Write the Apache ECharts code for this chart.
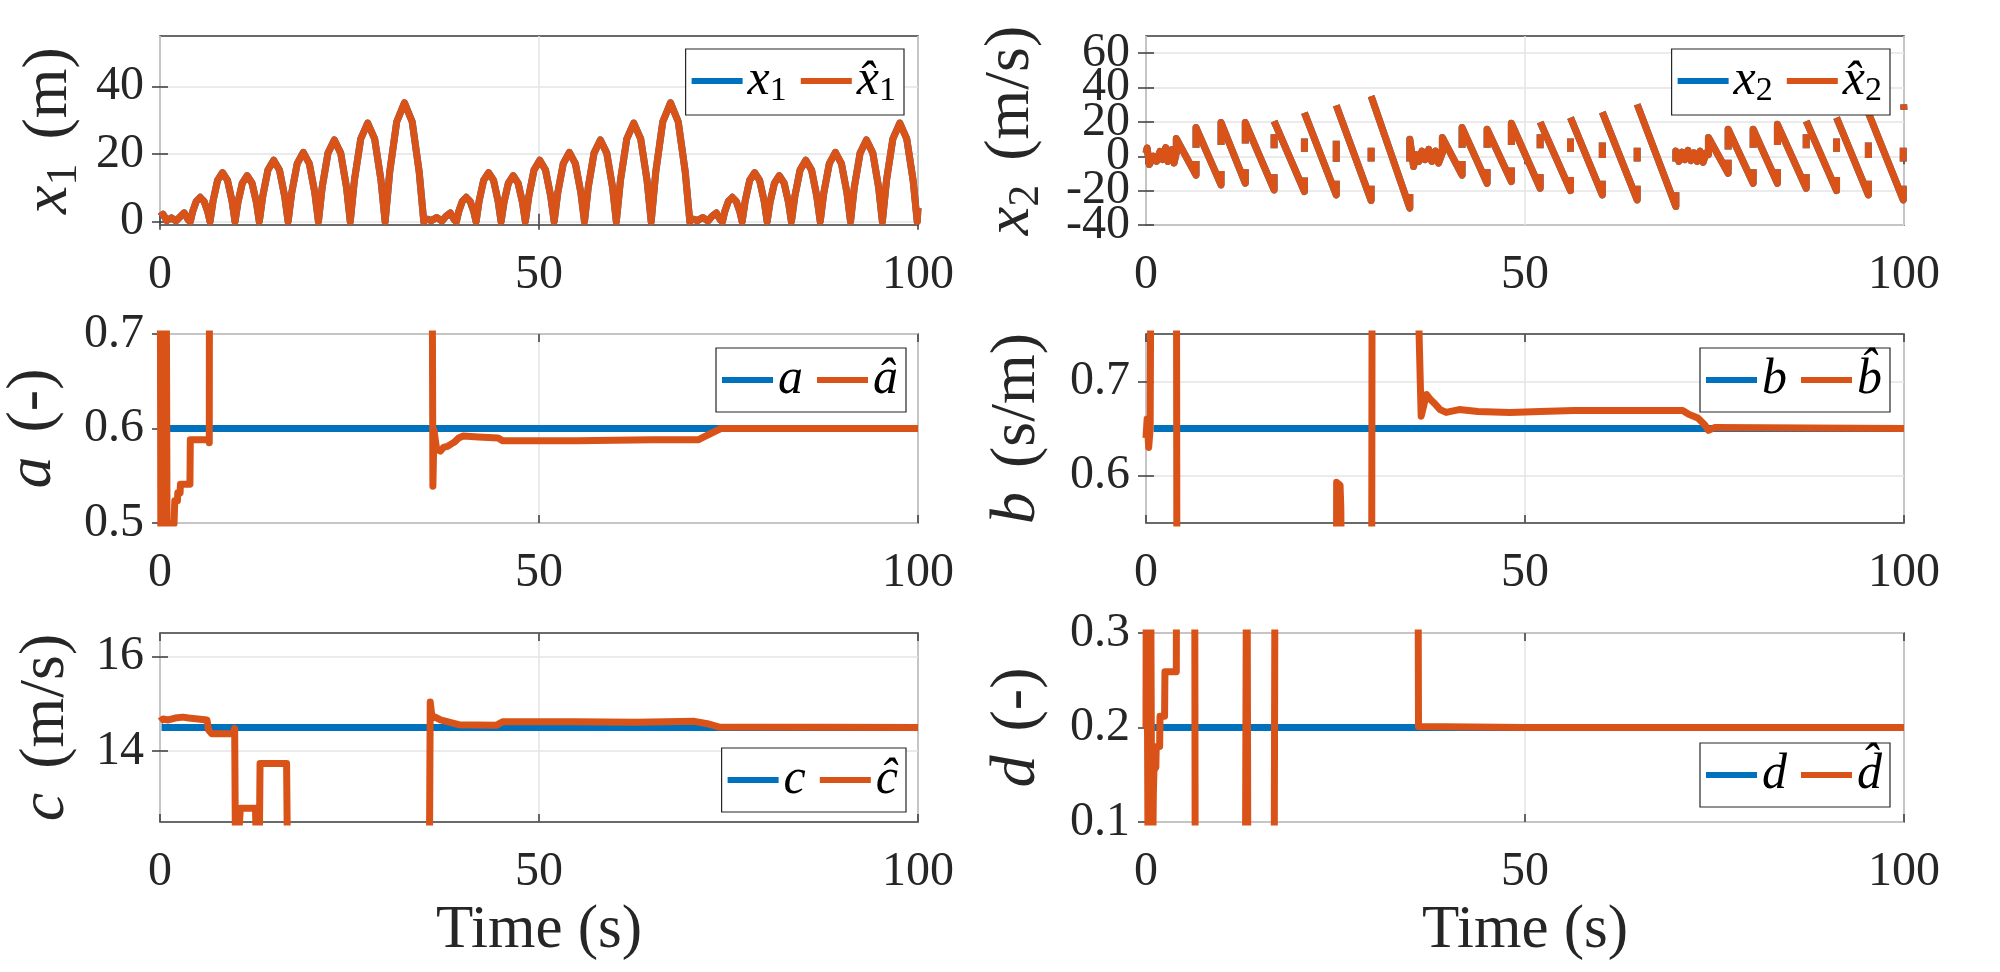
<!DOCTYPE html>
<html>
<head>
<meta charset="utf-8">
<script src="https://cdn.jsdelivr.net/npm/echarts@6.0.0/dist/echarts.min.js"></script>
<style>
  html, body { margin: 0; padding: 0; background: #fff; }
  #chart { width: 2000px; height: 972px; }
</style>
</head>
<body>
<div id="chart"></div>
<script>
const SERIF = 'Liberation Serif'
const TEXT = '#262626'
const AXC = '#3a3a3a'
const GRIDC = '#e4e4e4'
const BLUE = '#0072BD'
const ORANGE = '#D95319'

// tick values
const timeTicks = [0, 50, 100]
const x1Ticks = [0, 20, 40]
const x2Ticks = [-40, 0, 40]
const x2TicksAlt = [-20, 20, 60]
const aTicks = [0.5, 0.6, 0.7]
const bTicks = [0.6, 0.7]
const cTicks = [14, 16]
const dTicks = [0.1, 0.2, 0.3]

// position x1 (true and estimate overlap)
const x1 = [
  [0, 1.5], [0.4, 2.2], [0.9, 0.3], [1.5, 1.1], [2.1, 0.2], [2.7, 1.5], [3.2, 2.6], [3.7, 0.6], [4.0, 0],
  [4.31, 3.0], [4.78, 6.0], [5.3, 7.2], [5.82, 6.0], [6.29, 3.0], [6.6, 0],
  [7.0, 6.1], [7.59, 12.2], [8.25, 14.5], [8.91, 12.2], [9.5, 6.1], [9.9, 0],
  [10.28, 5.7], [10.86, 11.4], [11.5, 13.6], [12.14, 11.4], [12.72, 5.7], [13.1, 0],
  [13.56, 7.6], [14.24, 15.3], [15.0, 18.2], [15.76, 15.3], [16.44, 7.6], [16.9, 0],
  [17.38, 8.6], [18.1, 17.2], [18.9, 20.5], [19.7, 17.2], [20.42, 8.6], [20.9, 0],
  [21.4, 10.2], [22.16, 20.3], [23.0, 24.2], [23.84, 20.3], [24.6, 10.2], [25.1, 0],
  [25.65, 12.3], [26.48, 24.5], [27.4, 29.2], [28.32, 24.5], [29.15, 12.3], [29.7, 0],
  [30.31, 14.8], [31.23, 29.6], [32.25, 35.2], [33.27, 29.6], [34.19, 14.8], [34.8, 0],
  [35.2, 0.8], [35.8, 0.3], [36.5, 1.2], [37.2, 0.2], [37.7, 1.5], [38.3, 2.6], [38.8, 0.6], [39.1, 0],
  [39.41, 3.0], [39.88, 6.0], [40.4, 7.2], [40.92, 6.0], [41.39, 3.0], [41.7, 0],
  [42.1, 6.1], [42.69, 12.2], [43.35, 14.5], [44.01, 12.2], [44.6, 6.1], [45.0, 0],
  [45.38, 5.7], [45.96, 11.4], [46.6, 13.6], [47.24, 11.4], [47.82, 5.7], [48.2, 0],
  [48.66, 7.6], [49.34, 15.3], [50.1, 18.2], [50.86, 15.3], [51.54, 7.6], [52.0, 0],
  [52.48, 8.6], [53.2, 17.2], [54.0, 20.5], [54.8, 17.2], [55.52, 8.6], [56.0, 0],
  [56.5, 10.2], [57.26, 20.3], [58.1, 24.2], [58.94, 20.3], [59.7, 10.2], [60.2, 0],
  [60.75, 12.3], [61.58, 24.5], [62.5, 29.2], [63.42, 24.5], [64.25, 12.3], [64.8, 0],
  [65.41, 14.8], [66.33, 29.6], [67.35, 35.2], [68.37, 29.6], [69.29, 14.8], [69.9, 0],
  [70.3, 0.8], [70.9, 0.3], [71.6, 1.2], [72.3, 0.2], [72.8, 1.5], [73.4, 2.6], [73.9, 0.6], [74.2, 0],
  [74.51, 3.0], [74.98, 6.0], [75.5, 7.2], [76.02, 6.0], [76.49, 3.0], [76.8, 0],
  [77.2, 6.1], [77.79, 12.2], [78.45, 14.5], [79.11, 12.2], [79.7, 6.1], [80.1, 0],
  [80.48, 5.7], [81.06, 11.4], [81.7, 13.6], [82.34, 11.4], [82.92, 5.7], [83.3, 0],
  [83.76, 7.6], [84.44, 15.3], [85.2, 18.2], [85.96, 15.3], [86.64, 7.6], [87.1, 0],
  [87.58, 8.6], [88.3, 17.2], [89.1, 20.5], [89.9, 17.2], [90.62, 8.6], [91.1, 0],
  [91.6, 10.2], [92.36, 20.3], [93.2, 24.2], [94.04, 20.3], [94.8, 10.2], [95.3, 0],
  [95.85, 12.3], [96.68, 24.5], [97.6, 29.2], [98.52, 24.5], [99.35, 12.3], [99.9, 0],
  [100, 4]
]

// velocity x2: noisy stretches and teeth
// tooth: tStart, vTop, tEnd, vBottom, vTail, dashLo, dashHi
const x2Noise1 = [[0, 1.9], [0.15, 4.8], [0.45, -4.8], [1.0, 0], [1.4, -2.9], [1.85, 2.9], [2.2, -1.9], [2.6, 5], [2.9, -3], [3.4, 3.9], [3.7, -3.9], [4.0, 2]]
const x2Teeth1 = [
  [4.0, 10.3, 6.6, -11, -2.7, 2, 10.3],
  [6.6, 16.7, 9.9, -16.7, -8.5, 5, 16.7],
  [9.9, 19.6, 13.1, -15.7, -7.5, 6.5, 19.6],
  [13.1, 19.6, 16.9, -19.6, -10.4, 7.5, 19.6],
  [16.9, 20.5, 20.9, -20.5, -12.3, 4.6, 12.8],
  [20.9, 25.3, 25.1, -22.5, -14.3, 2.7, 10.3],
  [25.1, 29.6, 29.7, -25.7, -17.2, -3.2, 9],
  [29.7, 35, 34.8, -30.2, -22, -3.1, 5]
]
const x2Noise2 = [[34.8, -3], [34.8, 9.9], [35.3, -6], [35.6, 1], [36.0, -3], [36.4, 3], [36.8, -2], [37.3, 4], [37.7, -3], [38.2, 3], [38.6, -4], [39.1, 2]]
const x2Teeth2 = [
  [39.1, 10.9, 41.7, -11, -2.7, 2, 10.9],
  [41.7, 16.7, 45.0, -15.7, -7.5, 5, 16.7],
  [45.0, 15.7, 48.2, -14.7, -6.5, 5, 15.7],
  [48.2, 19.2, 52.0, -18.6, -10.4, 6.5, 19.2],
  [52.0, 19.9, 56.0, -20, -12, 4.6, 12.8],
  [56.0, 22.5, 60.2, -22.5, -14.3, 2.7, 10.3],
  [60.2, 25.7, 64.8, -25.4, -17.2, -1, 8],
  [64.8, 30.2, 69.9, -29.2, -21, -3, 5]
]
const x2Noise3 = [[69.9, -3], [69.9, 3], [70.3, -3], [70.7, 2.5], [71.1, -2], [71.5, 3.5], [71.9, -2.5], [72.3, 2], [72.7, -3], [73.1, 3], [73.5, -3.5], [73.9, 2], [74.2, 1]]
const x2Teeth3 = [
  [74.2, 10.9, 76.8, -9.9, -2, 1, 10.9],
  [76.8, 15.7, 80.1, -15.7, -7.5, 4, 15.7],
  [80.1, 15.7, 83.3, -15.7, -7.5, 5, 15.7],
  [83.3, 18.6, 87.1, -18.6, -10.4, 6.5, 18.6],
  [87.1, 20.5, 91.1, -20, -12, 4.6, 12.8],
  [91.1, 22.5, 95.3, -22.5, -14.3, 2.7, 10.3],
  [95.3, 25.3, 99.9, -25.4, -17.2, -1, 8]
]
const x2End = [[99.9, -3.1], [99.9, 5], [99.9, null], [99.95, 30.2], [100, 27]]

// parameters: true values and estimates
const aTrue = [[0.8, 0.6], [100, 0.6]]
const aHat = [
  [0, 0.95], [0.15, 0.3], [0.35, 0.95], [0.6, 0.3], [0.75, 0.95], [0.95, 0.45], [1.1, 0.499], [1.85, 0.499],
  [1.95, 0.5235], [2.3, 0.5235], [2.35, 0.532], [2.65, 0.532], [2.7, 0.541], [3.95, 0.541], [4.0, 0.588],
  [6.45, 0.588], [6.5, 0.585], [6.55, 0.95], [35.85, 0.95], [36.0, 0.539], [36.15, 0.598], [36.5, 0.578],
  [37.0, 0.576], [37.4, 0.58], [37.9, 0.581], [38.5, 0.584], [38.9, 0.586], [39.4, 0.59], [40.0, 0.592],
  [42, 0.591], [44.6, 0.59], [45.2, 0.587], [55, 0.587], [65, 0.588], [71, 0.588], [71.5, 0.59],
  [72.5, 0.594], [73.5, 0.598], [74, 0.6], [100, 0.6]
]
const bTrue = [[1.0, 0.65], [100, 0.65]]
const bHat = [
  [0, 0.64], [0.15, 0.66], [0.35, 0.63], [0.55, 0.65], [0.66, 0.65], [0.7, 0.95], [4.0, 0.95], [4.1, 0.35],
  [25.1, 0.35], [25.15, 0.593], [25.6, 0.59], [25.7, 0.567], [25.85, 0.565], [25.9, 0.35], [29.75, 0.35],
  [29.85, 0.95], [35.4, 0.95], [36.3, 0.663], [37.0, 0.686], [37.5, 0.681], [38.0, 0.677], [38.8, 0.67],
  [39.6, 0.667], [41.3, 0.67], [43.8, 0.668], [48, 0.667], [52, 0.668], [56.5, 0.669], [65, 0.669],
  [70.8, 0.669], [71.6, 0.665], [72.8, 0.661], [73.7, 0.654], [74.2, 0.648], [75, 0.651], [100, 0.65]
]
const cTrue = [[0.2, 14.5], [100, 14.5]]
const cHat = [
  [0, 14.63], [0.4, 14.68], [1.1, 14.66], [2.0, 14.7], [3.0, 14.72], [3.8, 14.7], [4.0, 14.66], [6.2, 14.66],
  [6.4, 14.45], [6.8, 14.37], [9.6, 14.37], [9.85, 14.48], [9.95, 12.0], [10.3, 12.0], [10.6, 12.79],
  [12.6, 12.79], [12.7, 12.0], [13.1, 12.0], [13.2, 13.74], [16.7, 13.74], [16.8, 12.0], [35.55, 12.0],
  [35.65, 15.04], [35.9, 14.7], [36.3, 14.72], [37, 14.66], [39.4, 14.56], [44.4, 14.55], [45.2, 14.62],
  [54.5, 14.62], [62.9, 14.61], [70.5, 14.63], [72.2, 14.58], [73.8, 14.51], [100, 14.5]
]
const dTrue = [[0.75, 0.2], [100, 0.2]]
const dHat = [
  [0, 0.2], [0.05, 0.5], [0.3, 0.0], [0.55, 0.5], [0.8, 0.0], [0.97, 0.13], [1.05, 0.155], [1.3, 0.158],
  [1.35, 0.18], [1.8, 0.18], [1.85, 0.212], [2.45, 0.212], [2.5, 0.259], [4.0, 0.259], [4.05, 0.5],
  [6.4, 0.5], [6.5, 0.0], [13.1, 0.0], [13.3, 0.5], [13.45, 0.0], [16.9, 0.0], [17.05, 0.5], [35.85, 0.5],
  [35.95, 0.201], [50, 0.2], [100, 0.2]
]

function teethPoints(noise, teeth) {
  const pts = noise.slice()
  teeth.forEach(([ts, vt, te, vb, vTail, lo, hi]) => {
    if (hi < vt) pts.push([ts, lo], [ts, hi], [ts, null], [ts, vt])
    else pts.push([ts, lo], [ts, vt])
    pts.push([te, vb], [te, vTail], [te, null])
  })
  return pts
}

const x2 = [
  ...teethPoints(x2Noise1, x2Teeth1),
  ...teethPoints(x2Noise2, x2Teeth2),
  ...teethPoints(x2Noise3, x2Teeth3),
  ...x2End,
]

const legendLabels = {
  x1: '{v|x}{s|1}', x1hat: '{v|x\u0302}{s|1}',
  x2: '{v|x}{s|2}', x2hat: '{v|x\u0302}{s|2}',
  a: '{v|a}', ahat: '{v|a\u0302}',
  b: '{v|b}', bhat: '{v|b\u0302}',
  c: '{v|c}', chat: '{v|c\u0302}',
  d: '{v|d}', dhat: '{v|d\u0302}',
}

const panels = [
  { left: 160, top: 36, ymin: -1, ymax: 55, yticks: x1Ticks, yname: '{v|x}{s|1}{u| (m)}', nameGap: 74,
    series: [['x1', x1, BLUE], ['x1hat', x1, ORANGE]], legend: { right: 1096, top: 49 } },
  { left: 1146, top: 36, ymin: -40, ymax: 70, yticks: x2Ticks, yticksAlt: x2TicksAlt, yname: '{v|x}{s|2}{u| (m/s)}', nameGap: 98,
    series: [['x2', x2, BLUE], ['x2hat', x2, ORANGE]], legend: { right: 110, top: 49 } },
  { left: 160, top: 334, ymin: 0.5, ymax: 0.7, yticks: aTicks, yname: '{v|a}{u| (-)}', nameGap: 90,
    series: [['a', aTrue, BLUE], ['ahat', aHat, ORANGE]], legend: { right: 1094, top: 348 } },
  { left: 1146, top: 334, ymin: 0.55, ymax: 0.75, yticks: bTicks, yname: '{v|b}{u| (s/m)}', nameGap: 92,
    series: [['b', bTrue, BLUE], ['bhat', bHat, ORANGE]], legend: { right: 110, top: 348 } },
  { left: 160, top: 633, ymin: 12.5, ymax: 16.5, yticks: cTicks, yname: '{v|c}{u| (m/s)}', nameGap: 77,
    series: [['c', cTrue, BLUE], ['chat', cHat, ORANGE]], legend: { right: 1094, top: 748 }, bottomRow: true },
  { left: 1146, top: 633, ymin: 0.1, ymax: 0.3, yticks: dTicks, yname: '{v|d}{u| (-)}', nameGap: 92,
    series: [['d', dTrue, BLUE], ['dhat', dHat, ORANGE]], legend: { right: 110, top: 743 }, bottomRow: true },
]

const tickLabel = { fontFamily: SERIF, fontSize: 48, color: TEXT }
const hiddenLabel = { show: false, fontFamily: SERIF, fontSize: 48 }
const nameRich = {
  v: { fontFamily: SERIF, fontStyle: 'italic', fontSize: 64, lineHeight: 74, color: TEXT },
  s: { fontFamily: SERIF, fontSize: 44, lineHeight: 44, verticalAlign: 'bottom', color: TEXT },
  u: { fontFamily: SERIF, fontSize: 64, lineHeight: 74, color: TEXT, padding: [0, 0, 0, 8] },
}
const legendRich = {
  v: { fontFamily: SERIF, fontStyle: 'italic', fontSize: 50, lineHeight: 54, color: '#000' },
  s: { fontFamily: SERIF, fontSize: 34, lineHeight: 34, verticalAlign: 'bottom', color: '#000' },
}

const grid = [], xAxis = [], yAxis = [], series = [], legend = []

panels.forEach((p, i) => {
  grid.push({
    left: p.left, top: p.top, width: 758, height: 189,
    show: true, borderColor: AXC, borderWidth: 1.5, backgroundColor: '#fff',
  })
  const tick = { inside: true, length: 8, lineStyle: { color: AXC, width: 1.5 } }
  xAxis.push({
    gridIndex: i, type: 'value', min: 0, max: 100, interval: 50,
    axisLine: { show: false },
    axisTick: { ...tick },
    axisLabel: { ...tickLabel, margin: 26 },
    splitLine: { show: true, lineStyle: { color: GRIDC, width: 1.5 } },
    name: p.bottomRow ? 'Time (s)' : '',
    nameLocation: 'middle', nameGap: 78,
    nameTextStyle: { fontFamily: SERIF, fontSize: 61, color: TEXT },
  })
  xAxis.push({
    gridIndex: i, type: 'value', position: 'top', min: 0, max: 100, interval: 50,
    axisLine: { show: false }, axisLabel: hiddenLabel, splitLine: { show: false },
    axisTick: { ...tick }, nameTextStyle: { fontFamily: SERIF },
  })
  const yIdx = yAxis.length
  yAxis.push({
    gridIndex: i, type: 'value', min: p.ymin, max: p.ymax,
    axisLine: { show: false },
    axisTick: { ...tick, customValues: p.yticks },
    axisLabel: { ...tickLabel, margin: 16, customValues: p.yticks },
    splitLine: { show: true, lineStyle: { color: GRIDC, width: 1.5 } },
    name: p.yname, nameLocation: 'middle', nameGap: p.nameGap,
    nameTextStyle: { fontFamily: SERIF, color: TEXT, rich: nameRich },
  })
  const rightTicks = p.yticksAlt ? p.yticks.concat(p.yticksAlt) : p.yticks
  yAxis.push({
    gridIndex: i, type: 'value', position: 'right', min: p.ymin, max: p.ymax,
    axisLine: { show: false }, axisLabel: hiddenLabel, splitLine: { show: false },
    axisTick: { ...tick, customValues: rightTicks }, nameTextStyle: { fontFamily: SERIF },
  })
  if (p.yticksAlt) {
    // second set of labels on the same side, so crowded labels are not dropped
    yAxis.push({
      gridIndex: i, type: 'value', position: 'left', offset: 0, min: p.ymin, max: p.ymax,
      axisLine: { show: false },
      axisTick: { ...tick, customValues: p.yticksAlt },
      axisLabel: { ...tickLabel, margin: 16, customValues: p.yticksAlt },
      splitLine: { show: true, lineStyle: { color: GRIDC, width: 1.5 } },
      nameTextStyle: { fontFamily: SERIF },
    })
  }
  p.series.forEach(([name, data, color], k) => {
    series.push({
      name, type: 'line', data,
      xAxisIndex: 2 * i, yAxisIndex: yIdx,
      showSymbol: false, symbol: 'none', clip: true, connectNulls: false,
      lineStyle: { color, width: 7, join: 'round', cap: 'butt' },
      itemStyle: { color },
      z: 2 + k, animation: false,
    })
  })
  legend.push({
    data: p.series.map(s => s[0]),
    right: p.legend.right, top: p.legend.top,
    orient: 'horizontal', icon: 'rect', itemWidth: 51, itemHeight: 6, itemGap: 14,
    backgroundColor: '#fff', borderColor: '#262626', borderWidth: 1.2, borderRadius: 0,
    padding: [7, 8, 7, 6], selectedMode: false,
    formatter: name => legendLabels[name],
    textStyle: { fontFamily: SERIF, color: '#000', rich: legendRich },
  })
})

const chart = echarts.init(document.getElementById('chart'))
chart.setOption({
  animation: false,
  backgroundColor: '#fff',
  textStyle: { fontFamily: SERIF },
  grid, xAxis, yAxis, series, legend,
})

// some labels lose their font family on the way to zrender; put the serif back on every drawn text
function forceSerif() {
  const zr = chart.getZr()
  zr.storage.getDisplayList(true).forEach(el => {
    const st = el.style
    if (st && st.text != null && typeof st.font === 'string') {
      const fixed = st.font.replace(/(\d+(?:\.\d+)?px)\s+.*$/, '$1 "Liberation Serif"')
      if (fixed !== st.font) {
        st.font = fixed
        el.markRedraw()
      }
    }
  })
  zr.refreshImmediately()
}
forceSerif()
setTimeout(forceSerif, 0)
setTimeout(forceSerif, 200)
</script>
</body>
</html>
